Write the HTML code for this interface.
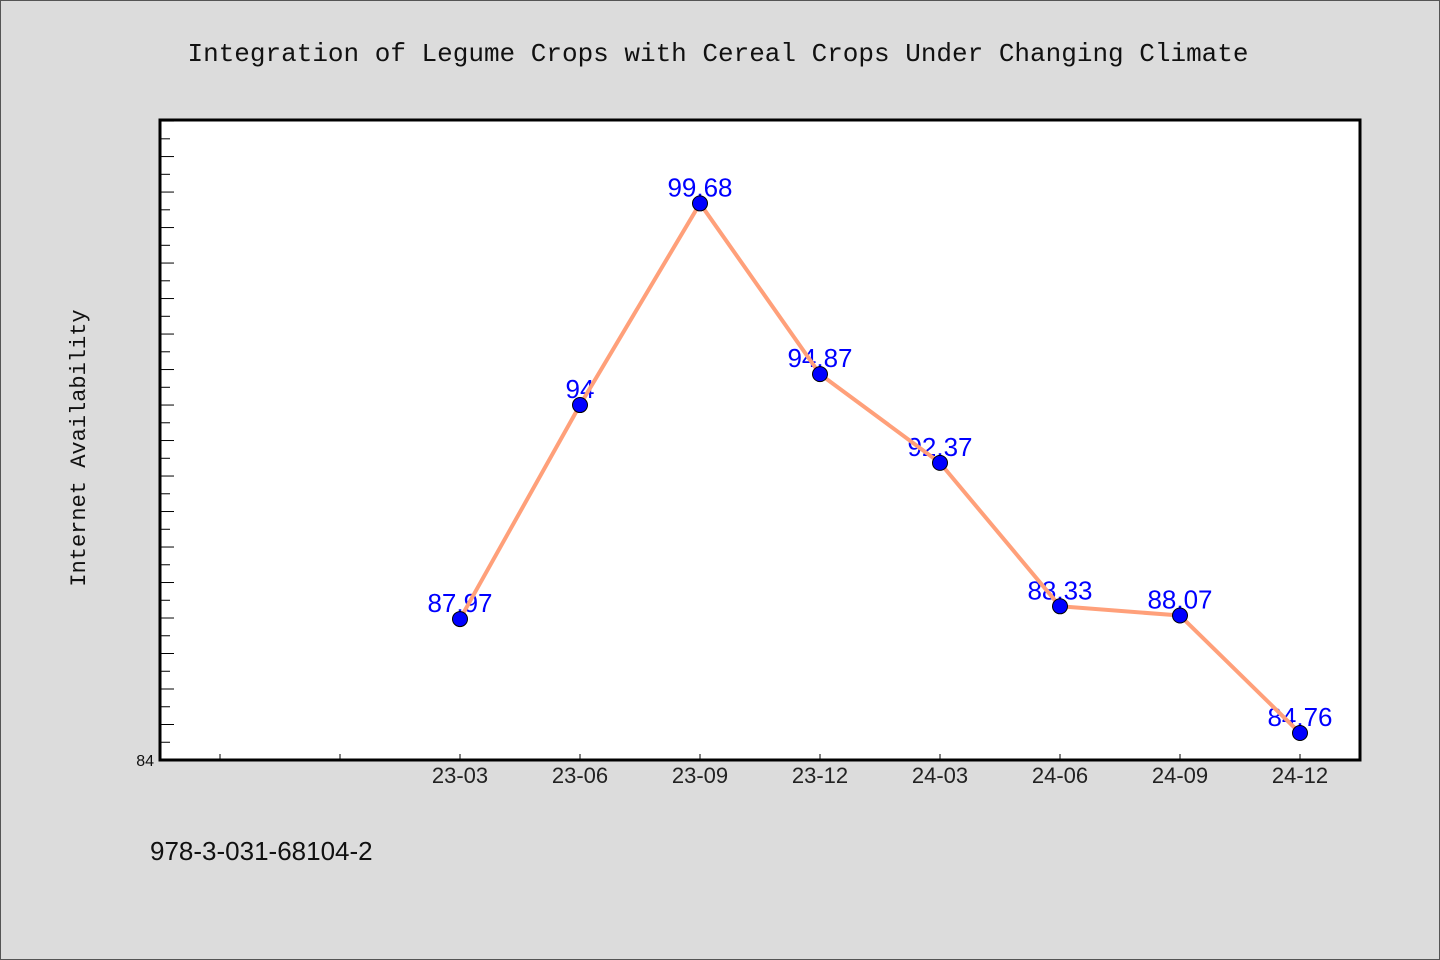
<!DOCTYPE html>
<html><head><meta charset="utf-8"><style>
html,body{margin:0;padding:0;background:#dcdcdc;}
svg{display:block;font-family:"Liberation Mono","DejaVu Sans Mono",monospace;}
</style></head><body>
<svg id="chart" width="1440" height="960" viewBox="0 0 1440 960" xmlns="http://www.w3.org/2000/svg">
<rect x="0.5" y="0.5" width="1439" height="959" fill="#dcdcdc" stroke="#555"/>
<text x="718" y="61" text-anchor="middle" font-size="26" fill="#111">Integration of Legume Crops with Cereal Crops Under Changing Climate</text>
<rect x="160" y="120" width="1200" height="640" fill="#fff"/>
<text transform="translate(85,448) rotate(-90)" text-anchor="middle" font-size="22" fill="#111">Internet Availability</text>
<text x="150" y="860" font-size="26" fill="#111" font-family="Liberation Sans,sans-serif">978-3-031-68104-2</text>
<g id="ticks"></g>
<g id="labels"></g>
<g id="series"></g>
<rect x="160" y="120" width="1200" height="640" fill="none" stroke="#000" stroke-width="3"/>
</svg>
<script>
const categories = ["23-03","23-06","23-09","23-12","24-03","24-06","24-09","24-12"];
const values = [87.97, 94, 99.68, 94.87, 92.37, 88.33, 88.07, 84.76];
const valueLabels = ["87.97","94","99.68","94.87","92.37","88.33","88.07","84.76"];
const yTickLabels = ["84"];

const NS="http://www.w3.org/2000/svg";
const X0=160,X1=1360,Y0=760,Y1=120;
const xMin=-2.5,xMax=7.5,yMin=84,yMax=102.03;
const xs=i=>X0+(i-xMin)/(xMax-xMin)*(X1-X0);
const ys=v=>Y0-(v-yMin)/(yMax-yMin)*(Y0-Y1);
function mk(t,a,p){const e=document.createElementNS(NS,t);for(const k in a)e.setAttribute(k,a[k]);p.appendChild(e);return e;}
const tg=document.getElementById('ticks'),lg=document.getElementById('labels'),sg=document.getElementById('series');
// y ticks (inward)
for(let v=yMin+0.5;v<yMax;v+=0.5){
  const major=Math.abs(v-Math.round(v))<1e-6;
  const t=mk('line',{x1:X0,x2:X0+(major?14:10),y1:ys(v),y2:ys(v),stroke:'#000','stroke-width':1},tg);
  
  
}
yTickLabels.forEach(s=>{
  const t=mk('text',{x:X0-6,y:ys(+s)+6,'text-anchor':'end','font-size':16,fill:'#111','font-family':'Liberation Sans,sans-serif'},lg);
  t.textContent=s;
  
  
});
// x ticks
for(let i=-2;i<categories.length;i++){
  const t=mk('line',{x1:xs(i),x2:xs(i),y1:Y0,y2:Y0-6,stroke:'#000','stroke-width':1},tg);
  
  
}
categories.forEach((c,i)=>{
  const t=mk('text',{x:xs(i),y:Y0+23,'text-anchor':'middle','font-size':22,fill:'#222','font-family':'Liberation Sans,sans-serif'},lg);
  t.textContent=c;
  
  
});
// value labels
values.forEach((v,i)=>{
  const t=mk('text',{x:xs(i),y:ys(v)-7,'text-anchor':'middle','font-size':26,fill:'#0000ff','font-family':'Liberation Sans,sans-serif'},sg);
  t.textContent=valueLabels[i];
  
  
});
const line=mk('polyline',{points:values.map((v,i)=>xs(i)+','+ys(v)).join(' '),fill:'none',stroke:'#ffa07a','stroke-width':4,'stroke-linejoin':'round'},sg);


values.forEach((v,i)=>{
  const c=mk('circle',{cx:xs(i),cy:ys(v),r:7.5,fill:'#0000ff',stroke:'#000','stroke-width':1},sg);
  
  
});
</script>
</body></html>
